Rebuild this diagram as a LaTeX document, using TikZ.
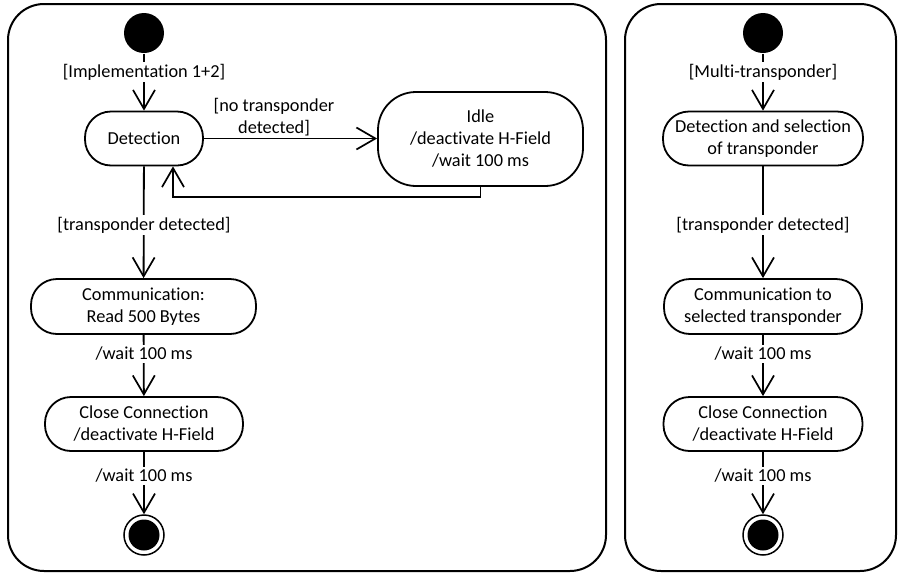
\documentclass[tikz,border=0pt]{standalone}
\usepackage{fontspec}
\setmainfont[Ligatures={NoCommon}]{Carlito}
\usetikzlibrary{arrows.meta}
\begin{document}
\begin{tikzpicture}[x=1pt,y=-1pt,line width=1.8pt,
  every node/.style={font=\fontsize{18.3}{22}\selectfont},
  act/.style={draw,rectangle,align=center,inner sep=0pt,rounded corners=26pt,minimum height=54pt},
  start/.style={circle,fill=black,minimum size=40pt,inner sep=0pt},
  stopnode/.style={circle,draw,fill=white,minimum size=40pt,inner sep=0pt,line width=1.5pt},
  guard/.style={fill=white,inner sep=2pt},
  arr/.style={-{Straight Barb[length=19pt,width=22pt,line width=1.7pt]}},
  frame/.style={draw,rounded corners=36pt,line width=2pt}]
\useasboundingbox (0,0) rectangle (898,574);

% swimlane frames
\draw[frame] (8,4) rectangle (606,571);
\draw[frame] (625,4) rectangle (896,571);

% ---- left activity: single transponder ----
\node[start] (s1) at (144,33) {};
\node[act,minimum width=118pt] (det) at (144,138.5) {Detection};
\node[act,minimum width=205pt,minimum height=94pt,rounded corners=38pt] (idle) at (480.5,139)
  {Idle\\/deactivate H-Field\\/wait 100 ms};
\node[act,minimum width=225pt,minimum height=55pt] (com) at (143.5,306.5) {Communication:\\Read 500 Bytes};
\node[act,minimum width=198pt] (cls) at (144,424) {Close Connection\\/deactivate H-Field};
\node[stopnode] (e1) at (144,535) {};
\fill (e1) circle (15.5pt);

\draw[arr] (s1) -- (det);
\node[guard] (g1) at (144,72) {[Implementation 1+2]};
\draw[arr] (det.east) -- (det.east -| idle.west);
\node[align=center] (g2) at (274,117) {[no transponder\\detected]};
\coordinate (ret) at (173,197);
\draw[arr] (idle.south) |- (ret) -- (ret |- det.south);
\draw[arr] (det) -- (com);
\node[guard] (g3) at (144,225) {[transponder detected]};
\draw[arr] (com) -- (cls);
\node[guard] (g4) at (144,354) {/wait 100 ms};
\draw[arr] (cls) -- (e1);
\node[guard] (g5) at (144,476) {/wait 100 ms};

% ---- right activity: multi-transponder ----
\node[start] (s2) at (763,33) {};
\node[act,minimum width=200pt] (det2) at (763,138.5) {Detection and selection\\of transponder};
\node[act,minimum width=198pt,minimum height=55pt] (com2) at (763,306.5) {Communication to\\selected transponder};
\node[act,minimum width=199pt] (cls2) at (763,424) {Close Connection\\/deactivate H-Field};
\node[stopnode] (e2) at (763,535) {};
\fill (e2) circle (15.5pt);

\draw[arr] (s2) -- (det2);
\node[guard] (h1) at (763,72) {[Multi-transponder]};
\draw[arr] (det2) -- (com2);
\node[guard] (h2) at (763,225) {[transponder detected]};
\draw[arr] (com2) -- (cls2);
\node[guard] (h3) at (763,354) {/wait 100 ms};
\draw[arr] (cls2) -- (e2);
\node[guard] (h4) at (763,476) {/wait 100 ms};
\end{tikzpicture}
\end{document}
